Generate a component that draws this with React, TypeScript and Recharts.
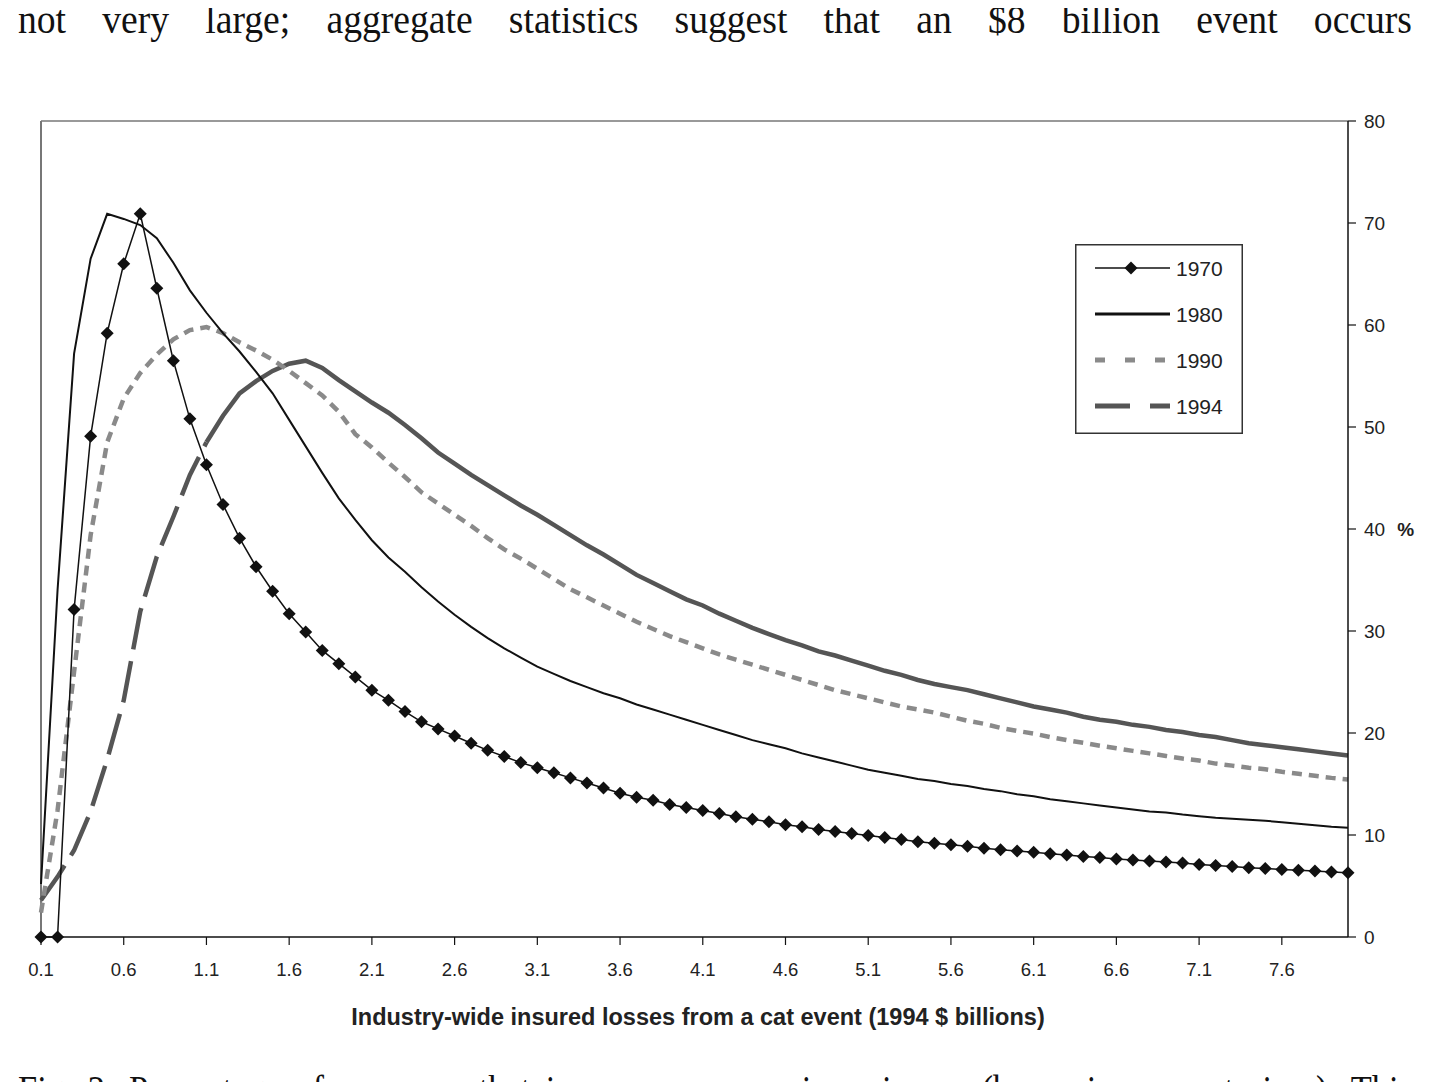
import { Legend, Line, LineChart, ReferenceLine, XAxis, YAxis } from "recharts";

// Event size, industry-wide insured losses (1994 $ billions)
const lossSizes = [
  "0.1", "0.2", "0.3", "0.4", "0.5", "0.6", "0.7", "0.8", "0.9", "1.0",
  "1.1", "1.2", "1.3", "1.4", "1.5", "1.6", "1.7", "1.8", "1.9", "2.0",
  "2.1", "2.2", "2.3", "2.4", "2.5", "2.6", "2.7", "2.8", "2.9", "3.0",
  "3.1", "3.2", "3.3", "3.4", "3.5", "3.6", "3.7", "3.8", "3.9", "4.0",
  "4.1", "4.2", "4.3", "4.4", "4.5", "4.6", "4.7", "4.8", "4.9", "5.0",
  "5.1", "5.2", "5.3", "5.4", "5.5", "5.6", "5.7", "5.8", "5.9", "6.0",
  "6.1", "6.2", "6.3", "6.4", "6.5", "6.6", "6.7", "6.8", "6.9", "7.0",
  "7.1", "7.2", "7.3", "7.4", "7.5", "7.6", "7.7", "7.8", "7.9", "8.0",
];

// Percentage of exposure reinsured, per year
const share1970 = [
  0, 0, 32.1, 49.1, 59.2, 66.0, 70.9, 63.6, 56.5, 50.8,
  46.3, 42.4, 39.1, 36.3, 33.9, 31.7, 29.9, 28.1, 26.8, 25.5,
  24.2, 23.2, 22.1, 21.1, 20.4, 19.7, 19.0, 18.3, 17.7, 17.1,
  16.6, 16.1, 15.6, 15.1, 14.6, 14.1, 13.7, 13.4, 13.0, 12.7,
  12.4, 12.1, 11.8, 11.55, 11.3, 11.0, 10.8, 10.55, 10.35, 10.15,
  9.95, 9.75, 9.55, 9.35, 9.2, 9.05, 8.9, 8.7, 8.55, 8.43,
  8.3, 8.15, 8.03, 7.9, 7.8, 7.65, 7.55, 7.45, 7.35, 7.25,
  7.1, 7.0, 6.9, 6.8, 6.72, 6.62, 6.55, 6.47, 6.38, 6.3,
];
const share1980 = [
  5.2, 34.0, 57.2, 66.5, 70.9, 70.4, 69.8, 68.5, 66.1, 63.4,
  61.2, 59.2, 57.4, 55.4, 53.3, 50.7, 48.1, 45.5, 43.0, 40.9,
  38.9, 37.2, 35.8, 34.3, 32.9, 31.6, 30.4, 29.3, 28.3, 27.4,
  26.5, 25.8, 25.1, 24.5, 23.9, 23.4, 22.8, 22.3, 21.8, 21.3,
  20.8, 20.3, 19.8, 19.3, 18.9, 18.5, 18.0, 17.6, 17.2, 16.8,
  16.4, 16.1, 15.8, 15.5, 15.3, 15.0, 14.8, 14.5, 14.3, 14.0,
  13.8, 13.5, 13.3, 13.1, 12.9, 12.7, 12.5, 12.3, 12.2, 12.0,
  11.85, 11.7, 11.6, 11.5, 11.4, 11.25, 11.1, 10.95, 10.8, 10.7,
];
const share1990 = [
  2.4, 12.4, 26.0, 39.4, 48.5, 52.8, 55.3, 57.1, 58.6, 59.5,
  59.8, 59.2, 58.3, 57.5, 56.6, 55.5, 54.3, 53.1, 51.5, 49.3,
  48.0, 46.5, 45.1, 43.6, 42.5, 41.4, 40.3, 39.1, 38.0, 37.1,
  36.1, 35.1, 34.1, 33.3, 32.5, 31.7, 30.9, 30.2, 29.5, 28.9,
  28.3, 27.7, 27.2, 26.7, 26.2, 25.7, 25.2, 24.7, 24.2, 23.8,
  23.4, 23.0, 22.6, 22.3, 22.0, 21.6, 21.2, 20.9, 20.5, 20.2,
  19.95, 19.6, 19.3, 19.05, 18.75, 18.5, 18.25, 18.0, 17.75, 17.5,
  17.3, 17.0, 16.8, 16.6, 16.45, 16.2, 16.0, 15.8, 15.6, 15.45,
];
const share1994 = [
  3.6, 5.9, 8.5, 12.3, 17.4, 23.2, 31.9, 37.3, 41.2, 45.3,
  48.5, 51.1, 53.3, 54.5, 55.5, 56.2, 56.5, 55.8, 54.6, 53.5,
  52.4, 51.4, 50.2, 48.9, 47.5, 46.4, 45.3, 44.3, 43.3, 42.3,
  41.4, 40.4, 39.4, 38.4, 37.5, 36.5, 35.5, 34.7, 33.9, 33.1,
  32.5, 31.7, 31.0, 30.3, 29.7, 29.1, 28.6, 28.0, 27.6, 27.1,
  26.6, 26.1, 25.7, 25.2, 24.8, 24.5, 24.2, 23.8, 23.4, 23.0,
  22.6, 22.3, 22.0, 21.6, 21.3, 21.1, 20.8, 20.6, 20.3, 20.1,
  19.8, 19.6, 19.3, 19.0, 18.8, 18.6, 18.4, 18.2, 18.0, 17.8,
];

const percentTicks = [0, 10, 20, 30, 40, 50, 60, 70, 80];
const seriesNames = ["1970", "1980", "1990", "1994"];

// the long-dash 1994 line only shows its gaps on the steep rising part
const RISE_END = 10;

const rows = lossSizes.map((x, i) => ({
  x,
  y1970: share1970[i],
  y1980: share1980[i],
  y1990: share1990[i],
  y1994Rise: i <= RISE_END ? share1994[i] : null,
  y1994Fall: i >= RISE_END ? share1994[i] : null,
}));

const sans = "'Liberation Sans', Arial, sans-serif";
const serif = "'Liberation Serif', 'Times New Roman', serif";

const legendStyles: Record<string, { stroke: string; width: number; dash?: string; diamond?: boolean }> = {
  "1970": { stroke: "#111", width: 1.5, diamond: true },
  "1980": { stroke: "#111", width: 3 },
  "1990": { stroke: "#8a8a8a", width: 5, dash: "10 20" },
  "1994": { stroke: "#555", width: 5, dash: "35 20" },
};

function diamondPath(cx: number, cy: number, r: number) {
  return `M${cx} ${cy - r}L${cx + r} ${cy}L${cx} ${cy + r}L${cx - r} ${cy}Z`;
}

function Diamond(props: any) {
  const { cx, cy, index } = props;
  if (cx == null || cy == null) return <g key={index} />;
  return <path key={index} d={diamondPath(cx, cy, 6.5)} fill="#111" />;
}

function BoxLegend() {
  return (
    <svg width={168} height={190} style={{ display: "block" }}>
      <rect x={0.75} y={0.75} width={166.5} height={188.5} fill="#fff" stroke="#333" strokeWidth={1.5} />
      {seriesNames.map((name, i) => {
        const s = legendStyles[name];
        const y = 24 + i * 46;
        return (
          <g key={name}>
            <line x1={20} x2={95} y1={y} y2={y} stroke={s.stroke} strokeWidth={s.width} strokeDasharray={s.dash} />
            {s.diamond && <path d={diamondPath(56, y, 6.5)} fill="#111" />}
            <text x={101} y={y} dy={7.5} fontSize={21} fontFamily={sans} fill="#222">
              {name}
            </text>
          </g>
        );
      })}
    </svg>
  );
}

function PercentTick(props: any) {
  const { x, y, payload } = props;
  return (
    <text x={x} y={y} dy={6.5} fontSize={19} fontFamily={sans} fill="#222" textAnchor="start">
      {payload.value}
      {payload.value === 40 && (
        <tspan fontWeight="bold" dx={12}>
          %
        </tspan>
      )}
    </text>
  );
}

// running text of the page, set tall and slightly condensed, justified to the column
function proseStyle(scale: number, top: number): React.CSSProperties {
  return {
    position: "absolute",
    left: 18,
    top,
    width: 1394 / scale,
    fontFamily: serif,
    fontSize: 40,
    lineHeight: "40px",
    color: "#111",
    whiteSpace: "nowrap",
    textAlign: "justify",
    textAlignLast: "justify",
    transform: `scaleX(${scale})`,
    transformOrigin: "left top",
  };
}

export default function App() {
  return (
    <div
      style={{
        position: "relative",
        width: 1432,
        height: 1090,
        margin: -8,
        overflow: "hidden",
        background: "#fff",
      }}
    >
      <div style={proseStyle(0.94, 0)}>
        not very large; aggregate statistics suggest that an $8 billion event occurs
      </div>

      <div style={{ position: "absolute", left: 0, top: 0 }}>
        <LineChart
          width={1432}
          height={1090}
          data={rows}
          margin={{ top: 121, right: 24, bottom: 113, left: 41 }}
        >
          <XAxis
            dataKey="x"
            interval={4}
            tickSize={8}
            tickMargin={18}
            axisLine={{ stroke: "#111", strokeWidth: 1.5 }}
            tickLine={{ stroke: "#111", strokeWidth: 1.2 }}
            tick={{ fill: "#222", fontSize: 18.5, fontFamily: sans }}
            height={40}
          />
          <YAxis
            orientation="right"
            domain={[0, 80]}
            ticks={percentTicks}
            width={60}
            tickSize={8}
            tickMargin={8}
            axisLine={{ stroke: "#111", strokeWidth: 1.5 }}
            tickLine={{ stroke: "#111", strokeWidth: 1.2 }}
            tick={<PercentTick />}
          />
          <ReferenceLine x="0.1" stroke="#777" strokeWidth={2} />
          <ReferenceLine y={80} stroke="#777" strokeWidth={1.5} />

          <Line
            type="linear"
            dataKey="y1994Rise"
            stroke="#555"
            strokeWidth={4.5}
            strokeDasharray="42 12"
            dot={false}
            activeDot={false}
            legendType="none"
            isAnimationActive={false}
          />
          <Line
            type="linear"
            dataKey="y1994Fall"
            stroke="#555"
            strokeWidth={4.5}
            dot={false}
            activeDot={false}
            legendType="none"
            isAnimationActive={false}
          />
          <Line
            type="linear"
            dataKey="y1990"
            stroke="#8a8a8a"
            strokeWidth={4.5}
            strokeDasharray="10 7"
            dot={false}
            activeDot={false}
            isAnimationActive={false}
          />
          <Line
            type="linear"
            dataKey="y1980"
            stroke="#111"
            strokeWidth={2}
            dot={false}
            activeDot={false}
            isAnimationActive={false}
          />
          <Line
            type="linear"
            dataKey="y1970"
            stroke="#111"
            strokeWidth={1.5}
            dot={(p: any) => <Diamond {...p} />}
            activeDot={false}
            isAnimationActive={false}
          />
          <Legend
            layout="vertical"
            align="center"
            verticalAlign="middle"
            content={() => <BoxLegend />}
            wrapperStyle={{ left: 1075, top: 244, width: 168, height: 190 }}
          />
        </LineChart>
      </div>

      <div
        style={{
          position: "absolute",
          left: 0,
          top: 1004,
          width: 1396,
          textAlign: "center",
          fontFamily: sans,
          fontWeight: "bold",
          fontSize: 23.5,
          color: "#222",
        }}
      >
        Industry-wide insured losses from a cat event (1994 $ billions)
      </div>

      <div style={proseStyle(0.86, 1070)}>
        Fig. 2. Percentage of exposure that insurance companies reinsure (by various event sizes). This
      </div>
    </div>
  );
}
